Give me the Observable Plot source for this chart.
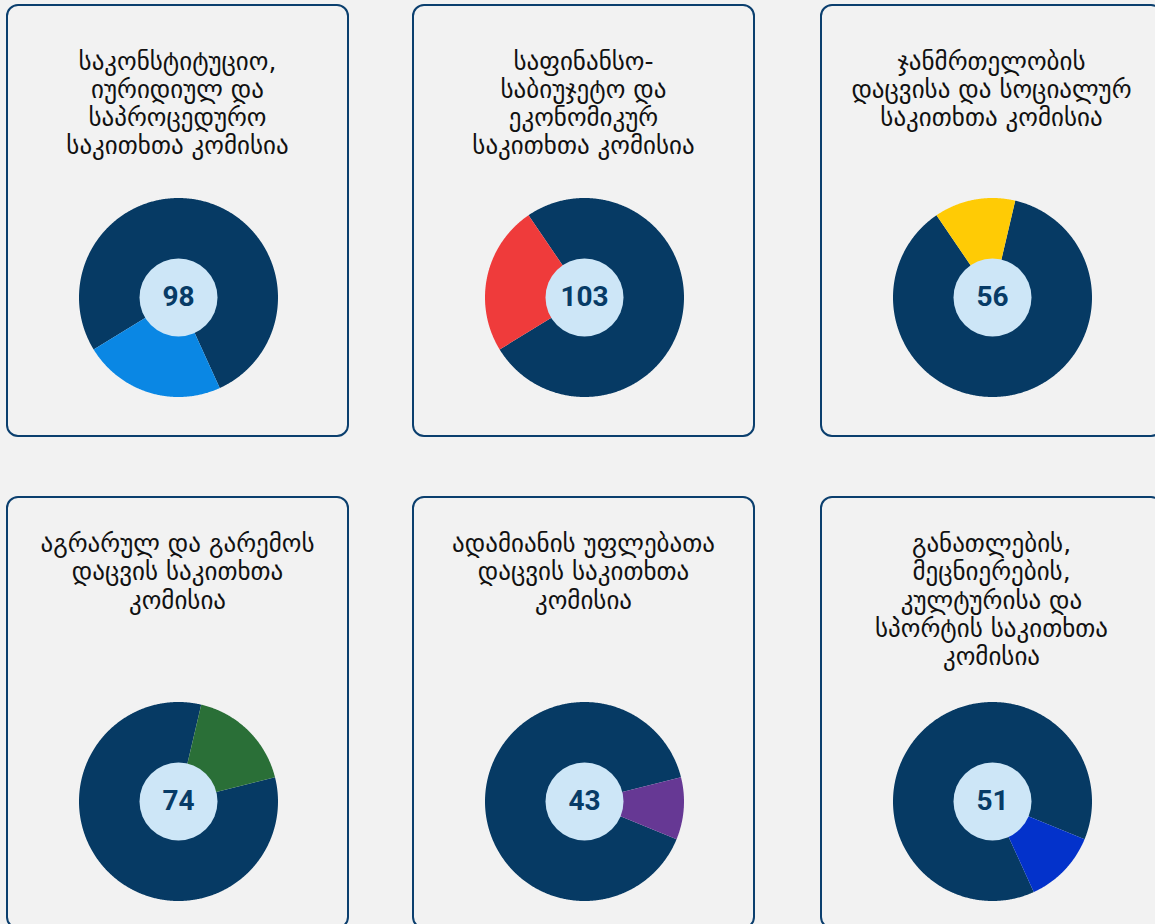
<!DOCTYPE html>
<html>
<head>
<meta charset="utf-8">
<script src="https://cdn.jsdelivr.net/npm/d3@7"></script>
<script src="https://cdn.jsdelivr.net/npm/@observablehq/plot@0.6"></script>
<style>
  html, body { margin: 0; padding: 0; background: #f2f2f2; width: 1155px; height: 924px; overflow: hidden; }
  .card { position: absolute; width: 339px; height: 429px; border: 2px solid #0b3f6e; border-radius: 12px; background: #f2f2f2; }
  .title { position: absolute; left: -10px; right: -10px; text-align: center; white-space: pre-line;
           font-family: "DejaVu Sans", sans-serif; font-size: 25px; line-height: 28.3px; color: #111; }
  .chart { position: absolute; }
  .chart svg { overflow: visible; background: transparent; display: block; }
</style>
</head>
<body>
<div id="root"></div>
<script>
// ---- data ----
const committees = [
  "საკონსტიტუციო,\nიურიდიულ და\nსაპროცედურო\nსაკითხთა კომისია",
  "საფინანსო-\nსაბიუჯეტო და\nეკონომიკურ\nსაკითხთა კომისია",
  "ჯანმრთელობის\nდაცვისა და სოციალურ\nსაკითხთა კომისია",
  "აგრარულ და გარემოს\nდაცვის საკითხთა\nკომისია",
  "ადამიანის უფლებათა\nდაცვის საკითხთა\nკომისია",
  "განათლების,\nმეცნიერების,\nკულტურისა და\nსპორტის საკითხთა\nკომისია"
];
const counts = [98, 103, 56, 74, 43, 51];
const highlightColors = ["#0a87e4", "#ef3b3b", "#ffcb05", "#2a6f37", "#663894", "#0332cb"];

// ---- style / layout constants ----
const DARK = "#063a64";
const INNER = "#cde6f7";
const NUM = "#073b66";
const START_DEG = 155.5;
const cardLeft = [6, 412, 820];
const cardTop = [4, 496];
const titleTop = [41.5, 32];      // per row, inside card
const donutCY = [291, 303];       // per row, inside card
const R_PX = 99.5;
const SIZE = 210;

const pie = d3.pie().sort(null)
  .startAngle(START_DEG * Math.PI / 180)
  .endAngle(START_DEG * Math.PI / 180 + 2 * Math.PI);
const arcs = pie(counts);

function sector(a0, a1, k, color) {
  const pts = [{x: 0, y: 0, k, c: color}];
  const n = Math.max(2, Math.ceil((a1 - a0) / (Math.PI / 360)));
  for (let i = 0; i <= n; i++) {
    const t = a0 + (a1 - a0) * i / n;
    pts.push({x: Math.sin(t), y: Math.cos(t), k, c: color});
  }
  return pts;
}

const root = document.getElementById("root");
const half = SIZE / 2 / R_PX;

committees.forEach((title, i) => {
  const row = Math.floor(i / 3), col = i % 3;
  const card = document.createElement("div");
  card.className = "card";
  card.style.left = cardLeft[col] + "px";
  card.style.top = cardTop[row] + "px";

  const t = document.createElement("div");
  t.className = "title";
  t.style.top = titleTop[row] + "px";
  t.textContent = title;
  card.appendChild(t);

  // other committees merged into one dark sector, then the highlighted committee's slice
  const a = arcs[i];
  const pts = sector(a.endAngle, a.startAngle + 2 * Math.PI, "rest", DARK)
    .concat(sector(a.startAngle, a.endAngle, "this", highlightColors[i]));

  const plot = Plot.plot({
    width: SIZE, height: SIZE, margin: 0,
    x: {domain: [-half, half], axis: null},
    y: {domain: [-half, half], axis: null},
    color: {type: "identity"},
    style: {background: "transparent", overflow: "visible"},
    marks: [
      Plot.line(pts, {x: "x", y: "y", z: "k", fill: "c", stroke: null, curve: "linear"}),
      Plot.dot([counts[i]], {x: 0, y: 0, r: 39, fill: INNER, stroke: null}),
      Plot.text([counts[i]], {x: 0, y: 0, text: d => String(d), fontSize: 28, fontWeight: "bold",
        fontFamily: "Roboto, sans-serif", fill: NUM})
    ]
  });
  const wrap = document.createElement("div");
  wrap.className = "chart";
  wrap.style.left = (339 / 2 - SIZE / 2) + "px";
  wrap.style.top = (donutCY[row] - SIZE / 2) + "px";
  wrap.appendChild(plot);
  card.appendChild(wrap);
  root.appendChild(card);
});
</script>
</body>
</html>
